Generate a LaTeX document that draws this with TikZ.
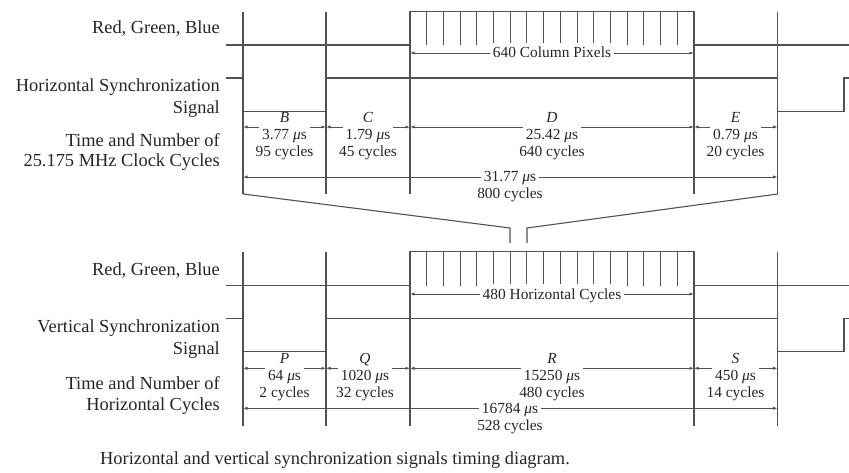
\documentclass[tikz,border=0pt]{standalone}
\usepackage{fontspec}
\setmainfont{Liberation Serif}
\usetikzlibrary{arrows.meta}
\definecolor{lc}{gray}{0.32}
\definecolor{tc}{gray}{0.15}
\begin{document}
\begin{tikzpicture}[x=1pt,y=-1pt,
  sig/.style={draw=lc, line width=1.4pt, line join=miter},
  gridline/.style={draw=lc, line width=1.1pt},
  dimarrow/.style={draw=lc, line width=0.9pt, {Latex[length=4.5pt,width=3.2pt]}-{Latex[length=4.5pt,width=3.2pt]}},
  lbl/.style={font=\fontsize{18.4}{21}\selectfont, text=tc, anchor=base east, inner sep=0pt},
  seg/.style={font=\fontsize{15.4}{17}\selectfont, text=tc, anchor=base, inner sep=0pt},
  segw/.style={font=\fontsize{15.4}{17}\selectfont, text=tc, anchor=base, fill=white, inner xsep=3pt, inner ysep=4pt},
  capt/.style={font=\fontsize{18.4}{21}\selectfont, text=tc, anchor=base west, inner sep=0pt},
]
\useasboundingbox[fill=white] (0,0) rectangle (849,473);

% ---------------- top panel ----------------
\foreach \x/\k in {243/a,326/b,410/c,694/d,777.7/e} {
  \coordinate (Tt\k) at (\x,11.7);
  \coordinate (Tb\k) at (\x,194);
}
\foreach \k in {a,b,c,d,e} \draw[gridline] (Tt\k) -- (Tb\k);

% RGB
\draw[sig] (226,45) -- (410,45) -- (410,11.7) -- (694,11.7) -- (694,45) -- (849,45);
\foreach \i in {1,...,16} \draw[gridline] (410+\i*16.706,11.7) -- (410+\i*16.706,45);
% HSync
\draw[sig] (226,78) -- (243,78) -- (243,111.7) -- (326,111.7) -- (326,78) -- (777.7,78) -- (777.7,111.7) -- (844,111.7) -- (844,78) -- (849,78);

% dimension arrows
\draw[dimarrow] (Ttc |- 0,53) -- (Ttd |- 0,53);
\draw[dimarrow] (Tta |- 0,127) -- (Ttb |- 0,127);
\draw[dimarrow] (Ttb |- 0,127) -- (Ttc |- 0,127);
\draw[dimarrow] (Ttc |- 0,127) -- (Ttd |- 0,127);
\draw[dimarrow] (Ttd |- 0,127) -- (Tte |- 0,127);
\draw[dimarrow] (Tta |- 0,177) -- (Tte |- 0,177);

% labels
\node[lbl] (trgb) at (220,34) {Red, Green, Blue};
\node[lbl] (ths1) at (220,92) {Horizontal Synchronization};
\node[lbl] (ths2) at (220,113.3) {Signal};
\node[lbl] (ttn1) at (220,146.5) {Time and Number of};
\node[lbl] (ttn2) at (220,167) {25.175 MHz Clock Cycles};

\node[segw] (tpix) at (552,58) {640 Column Pixels};

\node[seg]  (tBn) at (284.5,123) {\textit{B}};
\node[segw] (tBv) at (284.5,140) {3.77 \textit{μ}s};
\node[seg]  (tBc) at (284.5,157) {95 cycles};
\node[seg]  (tCn) at (368,123) {\textit{C}};
\node[segw] (tCv) at (368,140) {1.79 \textit{μ}s};
\node[seg]  (tCc) at (368,157) {45 cycles};
\node[seg]  (tDn) at (552,123) {\textit{D}};
\node[segw] (tDv) at (552,140) {25.42 \textit{μ}s};
\node[seg]  (tDc) at (552,157) {640 cycles};
\node[seg]  (tEn) at (735.5,123) {\textit{E}};
\node[segw] (tEv) at (735.5,140) {0.79 \textit{μ}s};
\node[seg]  (tEc) at (735.5,157) {20 cycles};

\node[segw] (tTv) at (510,182) {31.77 \textit{μ}s};
\node[seg]  (tTc) at (510,199) {800 cycles};

% funnel
\draw[gridline] (Tba) -- (510,228) -- (510,243);
\draw[gridline] (Tbe) -- (527,228) -- (527,243);

% ---------------- bottom panel ----------------
\foreach \x/\k in {243/a,326/b,410/c,694/d,777.7/e} {
  \coordinate (Bt\k) at (\x,251.7);
  \coordinate (Bb\k) at (\x,426);
}
\foreach \k in {a,b,c,d,e} \draw[gridline] (Bt\k) -- (Bb\k);

\draw[sig] (226,285.7) -- (410,285.7) -- (410,251.7) -- (694,251.7) -- (694,285.7) -- (849,285.7);
\foreach \i in {1,...,16} \draw[gridline] (410+\i*16.706,251.7) -- (410+\i*16.706,285.7);
\draw[sig] (226,318.3) -- (243,318.3) -- (243,351.7) -- (326,351.7) -- (326,318.3) -- (777.7,318.3) -- (777.7,351.7) -- (844,351.7) -- (844,318.3) -- (849,318.3);

\draw[dimarrow] (Btc |- 0,294) -- (Btd |- 0,294);
\draw[dimarrow] (Bta |- 0,368.3) -- (Btb |- 0,368.3);
\draw[dimarrow] (Btb |- 0,368.3) -- (Btc |- 0,368.3);
\draw[dimarrow] (Btc |- 0,368.3) -- (Btd |- 0,368.3);
\draw[dimarrow] (Btd |- 0,368.3) -- (Bte |- 0,368.3);
\draw[dimarrow] (Bta |- 0,408.3) -- (Bte |- 0,408.3);

\node[lbl] (brgb) at (220,275.5) {Red, Green, Blue};
\node[lbl] (bvs1) at (220,332) {Vertical Synchronization};
\node[lbl] (bvs2) at (220,354) {Signal};
\node[lbl] (btn1) at (220,389) {Time and Number of};
\node[lbl] (btn2) at (220,410.5) {Horizontal Cycles};

\node[segw] (bpix) at (552,299) {480 Horizontal Cycles};

\node[seg]  (bPn) at (284.5,363) {\textit{P}};
\node[segw] (bPv) at (284.5,380) {64 \textit{μ}s};
\node[seg]  (bPc) at (284.5,397.5) {2 cycles};
\node[seg]  (bQn) at (365,363) {\textit{Q}};
\node[segw] (bQv) at (365,380) {1020 \textit{μ}s};
\node[seg]  (bQc) at (365,397.5) {32 cycles};
\node[seg]  (bRn) at (552,363) {\textit{R}};
\node[segw] (bRv) at (552,380) {15250 \textit{μ}s};
\node[seg]  (bRc) at (552,397.5) {480 cycles};
\node[seg]  (bSn) at (735.5,363) {\textit{S}};
\node[segw] (bSv) at (735.5,380) {450 \textit{μ}s};
\node[seg]  (bSc) at (735.5,397.5) {14 cycles};

\node[segw] (bTv) at (510,413) {16784 \textit{μ}s};
\node[seg]  (bTc) at (510,430.5) {528 cycles};

% caption
\node[capt] (cap) at (100,464) {Horizontal and vertical synchronization signals timing diagram.};
\end{tikzpicture}
\end{document}
